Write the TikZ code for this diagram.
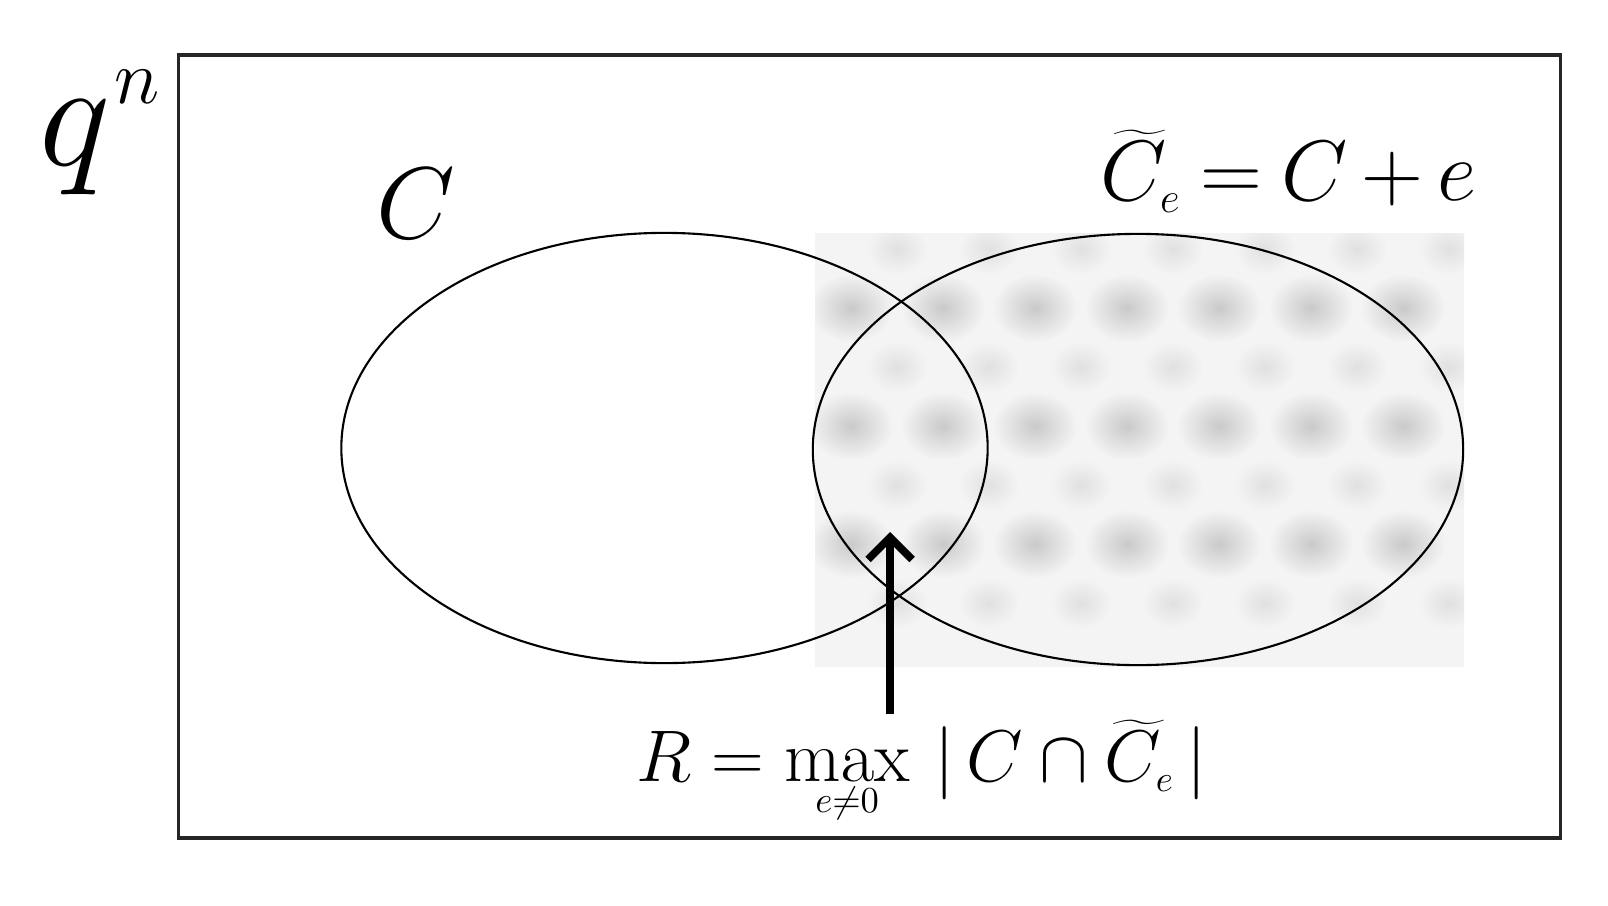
\RequirePackage{fix-cm}
\documentclass[tikz,border=0pt]{standalone}
\usetikzlibrary{shapes.geometric,arrows.meta}
\begin{document}
\begin{tikzpicture}[x=0.01cm,y=-0.01cm,
  venn/.style={draw=black, line width=0.6pt, ellipse, inner sep=0pt, outer sep=0pt},
  lbl/.style={inner sep=0pt, outer sep=0pt, anchor=base west},
  pointer/.style={line width=2.2pt, -{Straight Barb[length=2.2mm,width=4.4mm]}},
  blob/.style={inner color=gray!42, outer color=gray!9},
  softblob/.style={inner color=gray!24, outer color=gray!9}]
\useasboundingbox (0,0) rectangle (1608,906);
\fill[white] (0,0) rectangle (1608,906);
% textured fill of the shifted code's bounding box
\begin{scope}
  \clip (815,233) rectangle (1464,667);
  \fill[gray!9] (815,233) rectangle (1464,667);
  \foreach \y in {308,426,544} {
    \foreach \x in {851,943,...,1403} {
      \shade[blob] (\x,\y) ellipse [x radius=0.42cm, y radius=0.34cm];
    }
  }
  \foreach \y in {249,367,485,603} {
    \foreach \x in {897,989,...,1449} {
      \shade[softblob] (\x,\y) ellipse [x radius=0.30cm, y radius=0.25cm];
    }
  }
\end{scope}
% sets
\node[venn, minimum width=6.46cm, minimum height=4.30cm] (C) at (664.5,448) {};
\node[venn, minimum width=6.50cm, minimum height=4.31cm] (Ce) at (1138,449.5) {};
\node[draw=black!85, line width=1pt, inner sep=0pt, outer sep=0pt,
      minimum width=13.81cm, minimum height=7.83cm] (space) at (869.5,446.5) {};
% labels
\node[lbl] (qn) at (40,165) {\fontsize{43}{50}\selectfont$q$\kern1pt\raisebox{17.6pt}{\fontsize{22}{27}\selectfont$n$}};
\node[lbl] (Clbl) at (376,238) {\fontsize{29}{34}\selectfont$C$};
\node[lbl] (Celbl) at (1100,200) {\fontsize{24.4}{29}\selectfont\medmuskip=3mu\thickmuskip=4mu$\widetilde{C}_{\scriptscriptstyle e}=C+e$};
\node[lbl] (Rlbl) at (636,781) {\fontsize{20.8}{25}\selectfont$R=\max\limits_{\scriptscriptstyle e\neq0}\,|\,C\cap\widetilde{C}_{\scriptscriptstyle e}\,|$};
% pointer
\coordinate (tail) at (890,714);
\coordinate (tip) at (890,532);
\draw[pointer] (tail) -- (tip);
\end{tikzpicture}
\end{document}
